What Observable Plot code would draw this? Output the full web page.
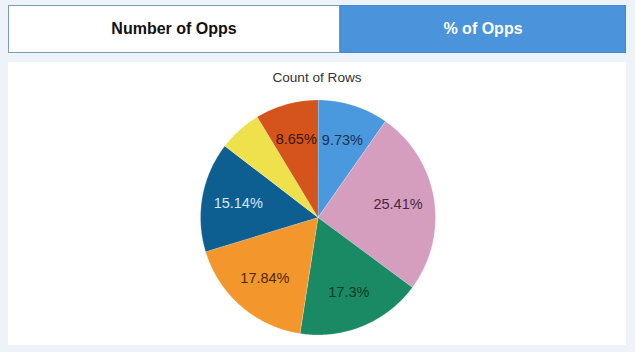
<!DOCTYPE html>
<html><head><meta charset="utf-8">
<script src="https://cdn.jsdelivr.net/npm/d3@7"></script>
<script src="https://cdn.jsdelivr.net/npm/@observablehq/plot@0.6"></script>
<style>
html,body{margin:0;padding:0;width:635px;height:352px;overflow:hidden;background:#edf3f8;font-family:"Liberation Sans",Arial,sans-serif;}
#btnL{position:absolute;left:8px;top:5px;width:332px;height:48px;background:#fff;border:1px solid #7f9bb3;box-sizing:border-box;display:flex;align-items:center;justify-content:center;font-weight:bold;font-size:16px;color:#111;}
#btnR{position:absolute;left:340px;top:5px;width:286px;height:48px;background:#4b93da;border:1px solid #3f8ad3;box-sizing:border-box;display:flex;align-items:center;justify-content:center;font-weight:bold;font-size:16px;color:#fff;}
#panel{position:absolute;left:8px;top:62px;width:618px;height:283px;background:#fff;}
#title{position:absolute;left:8px;top:70px;width:618px;text-align:center;font-size:13.6px;color:#333;}
#chart{position:absolute;left:8px;top:62px;}
</style></head>
<body>
<div id="btnL">Number of Opps</div>
<div id="btnR">% of Opps</div>
<div id="panel"></div>
<div id="chart"></div>
<div id="title">Count of Rows</div>
<script>
const categories = ["A","B","C","D","E","F","G"];
const values = [9.73, 25.41, 17.3, 17.84, 15.14, 5.93, 8.65];
const labels = ["9.73%","25.41%","17.3%","17.84%","15.14%","","8.65%"];
const colors = ["#4a98de","#d59ebe","#1a8a64","#f3962b","#0d5f92","#eee14b","#d4541b"];
const labelColors = ["#1c3550","#4a2840","#0e3828","#4a2c0c","#d4eaf8","#333","#3a1608"];

const arcs = d3.pie().sort(null).value(d => d)(values);
const pts = [];
const lab = [];
arcs.forEach((a, i) => {
  pts.push({cat: categories[i], x: 0, y: 0});
  const n = 80;
  for (let k = 0; k <= n; k++) {
    const t = a.startAngle + (a.endAngle - a.startAngle) * k / n;
    pts.push({cat: categories[i], x: Math.sin(t), y: Math.cos(t)});
  }
  const m = (a.startAngle + a.endAngle) / 2;
  lab.push({cat: categories[i], text: labels[i], x: 0.69 * Math.sin(m), y: 0.69 * Math.cos(m), c: labelColors[i]});
});

const chart = Plot.plot({
  width: 618, height: 283,
  marginLeft: 192, marginRight: 191, marginTop: 37.5, marginBottom: 10.5,
  x: {domain: [-1, 1], axis: null},
  y: {domain: [-1, 1], axis: null},
  color: {domain: categories, range: colors},
  style: {background: "transparent", fontFamily: "Liberation Sans, Arial, sans-serif"},
  marks: [
    Plot.line(pts, {x: "x", y: "y", z: "cat", fill: "cat", stroke: "#ffffff", strokeWidth: 0.4, strokeOpacity: 0.6, curve: "linear-closed"}),
    Plot.text(lab, {x: "x", y: "y", text: "text", fill: "c", fontSize: 14.5})
  ]
});
document.getElementById("chart").appendChild(chart);
</script>
</body></html>
